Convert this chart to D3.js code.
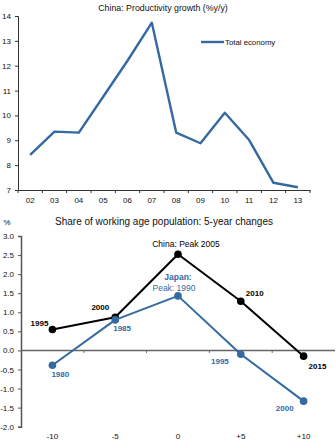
<!DOCTYPE html>
<html>
<head>
<meta charset="utf-8">
<script src="https://cdn.jsdelivr.net/npm/d3@7"></script>
<style>
  html, body { margin: 0; padding: 0; background: #fff; }
  svg { display: block; font-family: "Liberation Sans", Arial, sans-serif; }
</style>
</head>
<body>
<svg id="chart" width="336" height="448"></svg>
<script>
// Top panel: productivity growth, % y/y
const years = ["02","03","04","05","06","07","08","09","10","11","12","13"];
const productivity = [8.41, 9.35, 9.31, 10.75, 12.2, 13.73, 9.31, 8.88, 10.11, 9.01, 7.29, 7.11];
const topTicks = [7, 8, 9, 10, 11, 12, 13, 14];

// Bottom panel: 5-year change in working-age population share, around each peak
const offsets = ["-10", "-5", "0", "+5", "+10"];
const chinaShare = [0.55, 0.87, 2.52, 1.29, -0.15];
const japanShare = [-0.39, 0.80, 1.43, -0.10, -1.33];
const chinaYears = ["1995", "2000", "", "2010", "2015"];
const japanYears = ["1980", "1985", "", "1995", "2000"];
const bottomTicks = [-2.0, -1.5, -1.0, -0.5, 0.0, 0.5, 1.0, 1.5, 2.0, 2.5, 3.0];

const blue = "#3469a1";
const svg = d3.select("#chart");

// ---------- top panel ----------
const t = { left: 18, right: 310, top: 16, bottom: 190 };
const xTop = d3.scaleBand().domain(years).range([t.left, t.right]);
const yTop = d3.scaleLinear().domain([7, 14]).range([t.bottom, t.top]);

svg.append("text").attr("x", 163).attr("y", 11).attr("text-anchor", "middle")
  .attr("font-size", 8.8).attr("fill", "#111").text("China: Productivity growth (%y/y)");

const yAxisTop = svg.append("g").attr("transform", `translate(${t.left},0)`)
  .call(d3.axisLeft(yTop).tickValues(topTicks).tickSize(3).tickPadding(4).tickFormat(d3.format("d")));
const xAxisTop = svg.append("g").attr("transform", `translate(0,${t.bottom})`)
  .call(d3.axisBottom(xTop).tickSize(0).tickPadding(7));
// tick marks at category boundaries
xAxisTop.selectAll(".bound").data(years.concat(["end"])).enter().append("line")
  .attr("x1", (d, i) => t.left + i * xTop.step()).attr("x2", (d, i) => t.left + i * xTop.step())
  .attr("y1", 0).attr("y2", 3).attr("stroke", "#333");

[yAxisTop, xAxisTop].forEach(g => {
  g.select(".domain").attr("stroke", "#333");
  g.selectAll(".tick line").attr("stroke", "#333");
  g.selectAll("text").attr("font-size", 8).attr("fill", "#111")
    .attr("font-family", "Liberation Sans, Arial, sans-serif");
});

svg.append("path").datum(productivity)
  .attr("fill", "none").attr("stroke", blue).attr("stroke-width", 2.4)
  .attr("stroke-linejoin", "round")
  .attr("d", d3.line().x((d, i) => xTop(years[i]) + xTop.bandwidth() / 2).y(d => yTop(d)));

// legend
svg.append("line").attr("x1", 201).attr("x2", 224).attr("y1", 42).attr("y2", 42)
  .attr("stroke", blue).attr("stroke-width", 2.4);
svg.append("text").attr("x", 225).attr("y", 45).attr("font-size", 7.8).attr("fill", "#111")
  .text("Total economy");

// ---------- bottom panel ----------
const b = { left: 21, right: 335, top: 236, bottom: 426.7 };
const xBot = d3.scaleBand().domain(offsets).range([b.left, b.right]);
const yBot = d3.scaleLinear().domain([-2, 3]).range([b.bottom, b.top]);
const cx = i => xBot(offsets[i]) + xBot.bandwidth() / 2;

svg.append("text").attr("x", 7).attr("y", 225).attr("text-anchor", "middle")
  .attr("font-size", 8).attr("fill", "#111").text("%");
svg.append("text").attr("x", 164).attr("y", 225).attr("text-anchor", "middle")
  .attr("font-size", 10).attr("fill", "#111").text("Share of working age population: 5-year changes");

const yAxisBot = svg.append("g").attr("transform", `translate(${b.left},0)`)
  .call(d3.axisLeft(yBot).tickValues(bottomTicks).tickSize(3).tickPadding(4).tickFormat(d3.format(".1f")));
yAxisBot.select(".domain").attr("stroke", "#555").attr("stroke-width", 1.5);
yAxisBot.selectAll(".tick line").attr("stroke", "#555");
yAxisBot.selectAll("text").attr("font-size", 8).attr("fill", "#111")
  .attr("font-family", "Liberation Sans, Arial, sans-serif")
  .text(d => d3.format(".1f")(d).replace("−", "-"));

// zero line with boundary ticks
const zero = yBot(0);
svg.append("line").attr("x1", b.left).attr("x2", b.right).attr("y1", zero).attr("y2", zero)
  .attr("stroke", "#666").attr("stroke-width", 1.5);
offsets.slice(1).forEach((d, i) => {
  const x = b.left + (i + 1) * xBot.step();
  svg.append("line").attr("x1", x).attr("x2", x).attr("y1", zero).attr("y2", zero + 2.5)
    .attr("stroke", "#666");
});

// category labels at the bottom
const xAxisBot = svg.append("g").attr("transform", `translate(0,${b.bottom})`)
  .call(d3.axisBottom(xBot).tickSize(0).tickPadding(7));
xAxisBot.select(".domain").remove();
xAxisBot.selectAll("text").attr("font-size", 8).attr("fill", "#111")
  .attr("font-family", "Liberation Sans, Arial, sans-serif");

function drawSeries(values, color) {
  svg.append("path").datum(values).attr("fill", "none").attr("stroke", color)
    .attr("stroke-width", 2).attr("stroke-linejoin", "round")
    .attr("d", d3.line().x((d, i) => cx(i)).y(d => yBot(d)));
  svg.selectAll(null).data(values).enter().append("circle")
    .attr("cx", (d, i) => cx(i)).attr("cy", d => yBot(d)).attr("r", 3.8).attr("fill", color);
}
drawSeries(chinaShare, "#000");
drawSeries(japanShare, blue);

// point label offsets: [dx, dy, anchor]
const chinaPos = [[-4, -3, "end"], [-6, -7, "end"], null, [5, -5, "start"], [5, 13, "start"]];
const japanPos = [[-1, 12, "start"], [-2, 11, "start"], null, [-12, 10, "end"], [-10, 10, "end"]];
chinaYears.forEach((lab, i) => {
  if (!chinaPos[i]) return;
  const [dx, dy, a] = chinaPos[i];
  svg.append("text").attr("x", cx(i) + dx).attr("y", yBot(chinaShare[i]) + dy)
    .attr("text-anchor", a).attr("font-size", 8).attr("font-weight", "bold").attr("fill", "#000").text(lab);
});
japanYears.forEach((lab, i) => {
  if (!japanPos[i]) return;
  const [dx, dy, a] = japanPos[i];
  svg.append("text").attr("x", cx(i) + dx).attr("y", yBot(japanShare[i]) + dy)
    .attr("text-anchor", a).attr("font-size", 8).attr("font-weight", "bold").attr("fill", blue).text(lab);
});

// peak annotations
svg.append("text").attr("x", cx(2) + 8).attr("y", yBot(chinaShare[2]) - 7)
  .attr("text-anchor", "middle").attr("font-size", 8.5).attr("fill", "#000").text("China: Peak 2005");
svg.append("text").attr("x", cx(2)).attr("y", yBot(japanShare[2]) - 16)
  .attr("text-anchor", "middle").attr("font-size", 8.5).attr("font-weight", "bold").attr("fill", blue).text("Japan:");
svg.append("text").attr("x", cx(2) - 4).attr("y", yBot(japanShare[2]) - 5)
  .attr("text-anchor", "middle").attr("font-size", 8.5).attr("fill", blue).text("Peak: 1990");
</script>
</body>
</html>
